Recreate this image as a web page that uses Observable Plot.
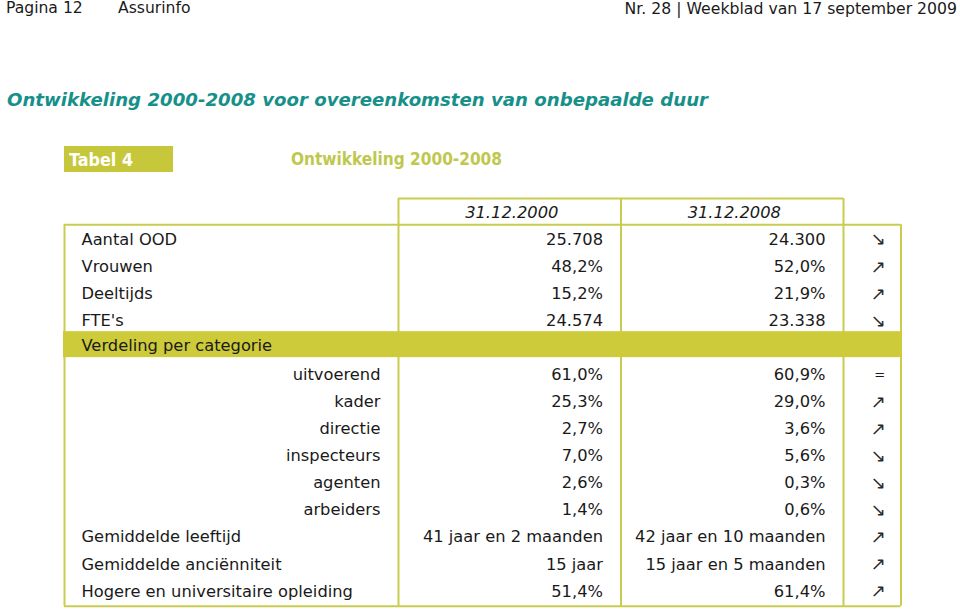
<!DOCTYPE html>
<html>
<head>
<meta charset="utf-8">
<script src="https://cdn.jsdelivr.net/npm/d3@7"></script>
<script src="https://cdn.jsdelivr.net/npm/@observablehq/plot@0.6"></script>
<style>
  html, body { margin: 0; background: #ffffff; overflow: hidden; }
  #page { position: relative; width: 960px; height: 611px; overflow: hidden;
          font-family: "DejaVu Sans", Verdana, sans-serif; color: #1a1a1a; }
  .t { position: absolute; white-space: nowrap; line-height: 1; transform-origin: 0 0; }
  #chart { position: absolute; left: 0; top: 0; line-height: 0; }
  #tabelBox { position: absolute; left: 64px; top: 146px; width: 109px; height: 26px; background: #c6c73b; }
</style>
</head>
<body>
<div id="page">
  <div id="chart"></div>
  <div class="t" style="left:6px; top:1.4px; font-size:15.6px;">Pagina 12</div>
  <div class="t" style="left:118px; top:1.4px; font-size:15.6px;">Assurinfo</div>
  <div class="t" id="issue" style="right:3px; top:1.4px; font-size:15.7px;">Nr. 28 | Weekblad van 17 september 2009</div>
  <div class="t" id="title" style="left:7px; top:91.5px; font-size:17.4px; font-weight:bold; font-style:italic; color:#17908a;">Ontwikkeling 2000-2008 voor overeenkomsten van onbepaalde duur</div>
  <div id="tabelBox"></div>
  <div class="t" id="tabel" style="left:69px; top:152.3px; font-size:17px; font-weight:bold; color:#ffffff;">Tabel 4</div>
  <div class="t" id="sub" style="left:290.7px; top:151.3px; font-size:17px; font-weight:bold; color:#bfc84e;">Ontwikkeling 2000-2008</div>
</div>
<script>
// ---- data ----
const columnHeaders = ["31.12.2000", "31.12.2008"];
const rowLabels = [
  "Aantal OOD", "Vrouwen", "Deeltijds", "FTE's", "Verdeling per categorie",
  "uitvoerend", "kader", "directie", "inspecteurs", "agenten", "arbeiders",
  "Gemiddelde leeftijd", "Gemiddelde anciënniteit", "Hogere en universitaire opleiding"
];
const rowKinds = [
  "main", "main", "main", "main", "section",
  "sub", "sub", "sub", "sub", "sub", "sub",
  "main", "main", "main"
];
const values2000 = [
  "25.708", "48,2%", "15,2%", "24.574", "",
  "61,0%", "25,3%", "2,7%", "7,0%", "2,6%", "1,4%",
  "41 jaar en 2 maanden", "15 jaar", "51,4%"
];
const values2008 = [
  "24.300", "52,0%", "21,9%", "23.338", "",
  "60,9%", "29,0%", "3,6%", "5,6%", "0,3%", "0,6%",
  "42 jaar en 10 maanden", "15 jaar en 5 maanden", "61,4%"
];
const trends = [
  "↘", "↗", "↗", "↘", "",
  "=", "↗", "↗", "↘", "↘", "↘",
  "↗", "↗", "↗"
];

// ---- fit widths of a few heading texts ----
function fitWidth(id, target) {
  const el = document.getElementById(id);
  const w = el.getBoundingClientRect().width;
  if (w > 0) el.style.transform = `scaleX(${target / w})`;
}
fitWidth("tabel", 64);
fitWidth("sub", 211);
fitWidth("title", 701);

// ---- layout (pixels) ----
const colEdge = [64, 398, 620.5, 843, 900.5];   // table column boundaries
const pad = 17;

// ---- table ----
const rows = rowLabels.map((label, i) => ({
  i, label, kind: rowKinds[i], v2000: values2000[i], v2008: values2008[i], trend: trends[i]
}));
const lastRow = rows.length - 1;
const borderColor = "#c9cc4f";
const bandColor = "#cdcb39";
const textColor = "#1a1a1a";
const tableTop = -0.55, tableBottom = lastRow + 0.55, headTop = -1.52;
const nonEmpty = key => rows.filter(d => d[key] !== "");

const chart = Plot.plot({
  width: 960,
  height: 611,
  margin: 0,
  x: { type: "identity", axis: null },
  y: { domain: [0, lastRow], range: [239.2, 239.2 + 27.05 * lastRow], axis: null },
  style: { fontFamily: "DejaVu Sans, Verdana, sans-serif", fontSize: "16.3px", color: textColor, background: "transparent" },
  marks: [
    Plot.ruleY([tableTop, tableBottom], { x1: colEdge[0], x2: colEdge[4], stroke: borderColor, strokeWidth: 2 }),
    Plot.ruleY([headTop], { x1: colEdge[1], x2: colEdge[3], stroke: borderColor, strokeWidth: 2 }),
    Plot.ruleX([colEdge[0], colEdge[4]], { y1: tableTop, y2: tableBottom, stroke: borderColor, strokeWidth: 2 }),
    Plot.ruleX([colEdge[1], colEdge[2], colEdge[3]], { y1: headTop, y2: tableBottom, stroke: borderColor, strokeWidth: 2 }),
    Plot.rect(rows.filter(d => d.kind === "section"), {
      x1: colEdge[0] - 1, x2: colEdge[4] + 1, y1: d => d.i - 0.6, y2: d => d.i + 0.36, fill: bandColor
    }),
    Plot.text(columnHeaders, { x: (d, i) => (colEdge[1 + i] + colEdge[2 + i]) / 2, y: -1, text: d => d, fontStyle: "italic", dx: 2, fontSize: 16.3, fill: textColor }),
    Plot.text(rows.filter(d => d.kind === "main"), { x: colEdge[0], y: "i", text: "label", textAnchor: "start", dx: pad, fontSize: 16.3, fill: textColor }),
    Plot.text(rows.filter(d => d.kind === "section"), { x: colEdge[0], y: "i", text: "label", textAnchor: "start", dx: pad, dy: -2.5, fontSize: 16.3, fill: textColor }),
    Plot.text(rows.filter(d => d.kind === "sub"), { x: colEdge[1], y: "i", text: "label", textAnchor: "end", dx: -18, fontSize: 16.3, fill: textColor }),
    Plot.text(nonEmpty("v2000"), { x: colEdge[2], y: "i", text: "v2000", textAnchor: "end", dx: -18, fontSize: 16.3, fill: textColor }),
    Plot.text(nonEmpty("v2008"), { x: colEdge[3], y: "i", text: "v2008", textAnchor: "end", dx: -18, fontSize: 16.3, fill: textColor }),
    Plot.text(nonEmpty("trend").filter(d => d.trend !== "="), { x: (colEdge[3] + colEdge[4]) / 2, y: "i", text: "trend", dx: 6, fontSize: 18, fill: "#2a2a2a" }),
    Plot.text(nonEmpty("trend").filter(d => d.trend === "="), { x: (colEdge[3] + colEdge[4]) / 2, y: "i", text: "trend", dx: 7.5, fontSize: 13, fill: textColor })
  ]
});
document.getElementById("chart").appendChild(chart);
</script>
</body>
</html>
